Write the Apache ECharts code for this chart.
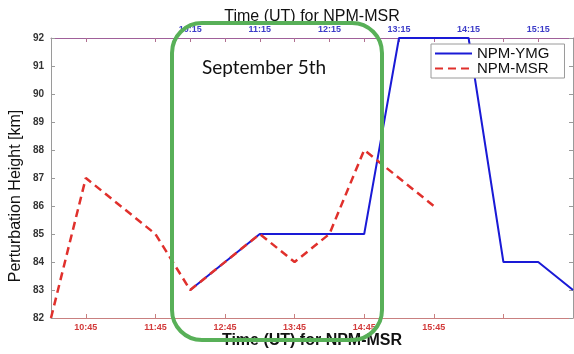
<!DOCTYPE html>
<html>
<head>
<meta charset="utf-8">
<script src="https://cdn.jsdelivr.net/npm/echarts@6/dist/echarts.min.js"></script>
<style>html,body{margin:0;padding:0;background:#fff;overflow:hidden}#c{width:574px;height:354px}</style>
</head>
<body>
<div id="c"></div>
<script>
// ---- data ----
const msrTimes   = ['10:15','10:45','11:45','12:15','13:15','13:45','14:15','14:45','15:45'];
const msrHeights = [82, 87, 85, 83, 85, 84, 85, 88, 86];
const ymgTimes   = ['10:15','11:15','12:45','13:15','14:15','14:45','15:15','15:45'];
const ymgHeights = [83, 85, 85, 92, 92, 84, 84, 83];
const bottomRange = ['10:15', '17:45'];
const topRange    = ['8:15', '15:45'];
const bottomTickLabels = ['10:45','11:45','12:45','13:45','14:45','15:45'];
const bottomTickMarks  = ['10:45','11:45','12:45','13:45','14:45','15:45','16:45'];
const topTickLabels = ['10:15','11:15','12:15','13:15','14:15','15:15'];
const topTickMarks  = ['8:45','9:45','10:15','10:45','11:15','11:45','12:15','12:45','13:15','13:45','14:15','14:45','15:15'];
const yTicks = [82, 83, 84, 85, 86, 87, 88, 89, 90, 91, 92];

const toH = s => { const p = s.split(':'); return +p[0] + (+p[1]) / 60; };
const fmt = v => { let h = Math.floor(v + 1e-6); let m = Math.round((v - h) * 60); if (m === 60) { h++; m = 0; } return h + ':' + (m < 10 ? '0' : '') + m; };

const FONT = 'Liberation Sans';
const chart = echarts.init(document.getElementById('c'));
chart.setOption({
  animation: false,
  textStyle: { fontFamily: FONT },
  grid: { left: 47, right: 1, top: 38, bottom: 30, containLabel: false },
  legend: {
    left: 431, top: 44, orient: 'vertical',
    padding: [2, 15, 2, 3], itemGap: 0, itemWidth: 37, itemHeight: 13,
    borderColor: '#9a9a9a', borderWidth: 1, backgroundColor: '#fff',
    itemStyle: { opacity: 0 },
    textStyle: { fontFamily: FONT, fontSize: 15, color: '#111' },
    data: ['NPM-YMG', 'NPM-MSR']
  },
  xAxis: [
    {
      type: 'value', position: 'bottom',
      min: toH(bottomRange[0]), max: toH(bottomRange[1]),
      axisLine: { show: true, onZero: false, lineStyle: { color: '#c98080', width: 1 } },
      axisTick: { show: true, inside: true, length: 4, lineStyle: { color: '#c98080' }, customValues: bottomTickMarks.map(toH) },
      axisLabel: { show: true, margin: 5, fontSize: 9, fontWeight: 'bold', color: '#d23b3b', customValues: bottomTickLabels.map(toH), formatter: v => fmt(v) },
      splitLine: { show: false },
      name: 'Time (UT) for NPM-MSR', nameLocation: 'middle', nameGap: 15, nameMoveOverlap: false,
      nameTextStyle: { fontSize: 16, fontWeight: 'bold', color: '#111', fontFamily: FONT }
    },
    {
      type: 'value', position: 'top',
      min: toH(topRange[0]), max: toH(topRange[1]),
      axisLine: { show: true, onZero: false, lineStyle: { color: '#a0609a', width: 1 } },
      axisTick: { show: true, inside: true, length: 4, lineStyle: { color: '#b07090' }, customValues: topTickMarks.map(toH) },
      axisLabel: { show: true, margin: 4, fontSize: 9, fontWeight: 'bold', color: '#3c3cc8', customValues: topTickLabels.map(toH), formatter: v => fmt(v) },
      splitLine: { show: false },
      name: 'Time (UT) for NPM-MSR', nameLocation: 'middle', nameGap: 13, nameMoveOverlap: false,
      nameTextStyle: { fontSize: 16, color: '#111', fontFamily: FONT }
    }
  ],
  yAxis: [
    {
      type: 'value', position: 'left', min: yTicks[0], max: yTicks[yTicks.length - 1], interval: 1,
      axisLine: { show: true, lineStyle: { color: '#9a9a9a' } },
      axisTick: { show: true, inside: true, length: 4, lineStyle: { color: '#9a9a9a' } },
      axisLabel: { margin: 7, fontSize: 10, fontWeight: 'bold', color: '#333' },
      splitLine: { show: false },
      name: 'Perturbation Height [km]', nameLocation: 'middle', nameGap: 27, nameMoveOverlap: false,
      nameTextStyle: { fontSize: 16, color: '#111', fontFamily: FONT, padding: [0, 36, 0, 0] }
    },
    {
      type: 'value', position: 'right', min: yTicks[0], max: yTicks[yTicks.length - 1], interval: 1,
      axisLine: { show: true, lineStyle: { color: '#9a9a9a' } },
      axisTick: { show: true, inside: true, length: 4, lineStyle: { color: '#9a9a9a' } },
      axisLabel: { show: false },
      splitLine: { show: false }
    }
  ],
  series: [
    {
      name: 'NPM-YMG', type: 'line', xAxisIndex: 1, yAxisIndex: 0,
      symbol: 'none', showSymbol: false,
      lineStyle: { color: '#1a1ad6', width: 2 }, itemStyle: { color: '#1a1ad6' },
      data: ymgTimes.map((t, i) => [toH(t), ymgHeights[i]])
    },
    {
      name: 'NPM-MSR', type: 'line', xAxisIndex: 0, yAxisIndex: 0,
      symbol: 'none', showSymbol: false,
      lineStyle: { color: '#e0302c', width: 2.5, type: [8, 5] }, itemStyle: { color: '#e0302c' },
      data: msrTimes.map((t, i) => [toH(t), msrHeights[i]])
    }
  ],
  graphic: [
    { type: 'rect', z: 100, shape: { x: 172, y: 23, width: 210, height: 317, r: 30 },
      style: { fill: null, stroke: '#58b058', lineWidth: 4 } },
    { type: 'text', z: 100, x: 202, y: 58,
      style: { text: 'September 5th', font: '19px Lato', fill: '#111' } }
  ]
});
</script>
</body>
</html>
